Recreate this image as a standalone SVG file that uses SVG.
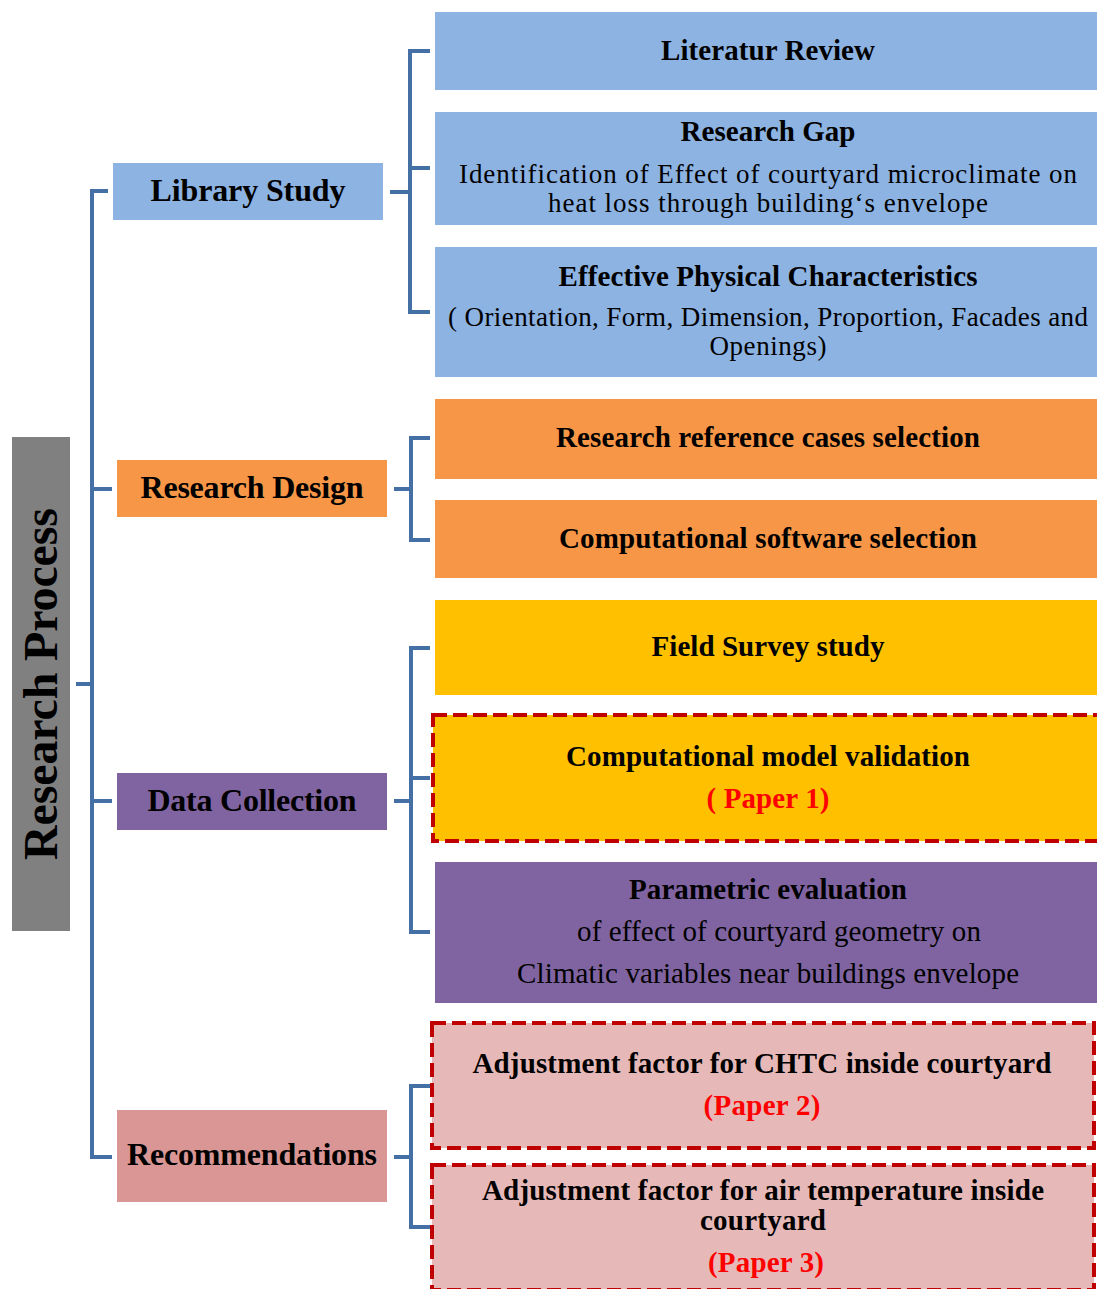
<svg xmlns="http://www.w3.org/2000/svg" width="1097" height="1289" viewBox="0 0 1097 1289">
<style>
text{font-family:"Liberation Serif","Times New Roman",serif;text-anchor:middle;fill:#000}
.b{font-weight:bold}
.t1{font-size:32px;font-weight:bold}
.t2{font-size:29px}
.t3{font-size:27px}
.red{fill:#FF0000;font-weight:bold}
.conn{fill:none;stroke:#4470A6;stroke-width:4;stroke-linejoin:miter}
.dash{stroke:#C00000;stroke-width:4;stroke-dasharray:14 6}
.blue{fill:#8DB3E2}.orange{fill:#F79646}.yellow{fill:#FFC000}.purple{fill:#8064A2}.pink{fill:#E6B9B8}.rose{fill:#D99694}
</style>
<g id="connectors">
<path class="conn" d="M108 191 H92 V1157 H112 M92 489 H112 M92 801 H112 M76 684 H92"/>
<path class="conn" d="M390 192 H410 M430 51 H410 V312 H430 M410 168 H430"/>
<path class="conn" d="M394 489 H411 M430 438 H411 V540 H430"/>
<path class="conn" d="M394 801 H411 M430 648 H411 V932 H430 M411 778 H430"/>
<path class="conn" d="M394 1157 H411 M430 1086 H411 V1227 H430"/>
</g>
<g id="research-process">
<rect x="12" y="437" width="58" height="494" fill="#808080"/>
<text class="b" font-size="48" textLength="352" transform="translate(57 684) rotate(-90)">Research Process</text>
</g>
<g id="library-study"><rect class="blue" x="113" y="163" width="270" height="57"/><text class="t1" x="248" y="201" textLength="195">Library Study</text></g>
<g id="research-design"><rect class="orange" x="117" y="460" width="270" height="57"/><text class="t1" x="252" y="498" textLength="223">Research Design</text></g>
<g id="data-collection"><rect class="purple" x="117" y="773" width="270" height="57"/><text class="t1" x="252" y="811" textLength="209">Data Collection</text></g>
<g id="recommendations"><rect class="rose" x="117" y="1110" width="270" height="92"/><text class="t1" x="252" y="1165" textLength="250">Recommendations</text></g>

<g id="literatur-review"><rect class="blue" x="435" y="12" width="662" height="78"/><text class="t2 b" x="768" y="60" textLength="214">Literatur Review</text></g>
<g id="research-gap"><rect class="blue" x="435" y="112" width="662" height="113"/>
<text class="t2 b" x="768" y="141" textLength="175">Research Gap</text>
<text class="t3" x="768" y="183" textLength="618">Identification of Effect of courtyard microclimate on</text>
<text class="t3" x="768" y="212" textLength="440">heat loss through building‘s envelope</text></g>
<g id="effective-physical"><rect class="blue" x="435" y="247" width="662" height="130"/>
<text class="t2 b" x="768" y="286" textLength="419">Effective Physical Characteristics</text>
<text class="t3" x="768" y="326" textLength="640">( Orientation, Form, Dimension, Proportion, Facades and</text>
<text class="t3" x="768" y="355" textLength="117">Openings)</text></g>
<g id="reference-cases"><rect class="orange" x="435" y="399" width="662" height="80"/><text class="t2 b" x="768" y="447" textLength="424">Research reference cases selection</text></g>
<g id="software-selection"><rect class="orange" x="435" y="500" width="662" height="78"/><text class="t2 b" x="768" y="548" textLength="418">Computational software selection</text></g>
<g id="field-survey"><rect class="yellow" x="435" y="600" width="662" height="95"/><text class="t2 b" x="768" y="656" textLength="233">Field Survey study</text></g>
<g id="model-validation"><rect class="yellow dash" x="433" y="715" width="670" height="126"/>
<text class="t2 b" x="768" y="766" textLength="404">Computational model validation</text>
<text class="t2 red" x="768" y="808" textLength="123">( Paper 1)</text></g>
<g id="parametric"><rect class="purple" x="435" y="862" width="662" height="141"/>
<text class="t2 b" x="768" y="899" textLength="278">Parametric evaluation</text>
<text class="t2" x="779" y="941" textLength="404">of effect of courtyard geometry on</text>
<text class="t2" x="768" y="983" textLength="502">Climatic variables near buildings envelope</text></g>
<g id="chtc"><rect class="pink dash" x="432" y="1023" width="662" height="125"/>
<text class="t2 b" x="762" y="1073" textLength="579">Adjustment factor for CHTC inside courtyard</text>
<text class="t2 red" x="762" y="1115" textLength="117">(Paper 2)</text></g>
<g id="air-temp"><rect class="pink dash" x="432" y="1165" width="662" height="125"/>
<text class="t2 b" x="763" y="1200" textLength="562">Adjustment factor for air temperature inside</text>
<text class="t2 b" x="763" y="1230" textLength="126">courtyard</text>
<text class="t2 red" x="766" y="1272" textLength="116">(Paper 3)</text></g>
</svg>
